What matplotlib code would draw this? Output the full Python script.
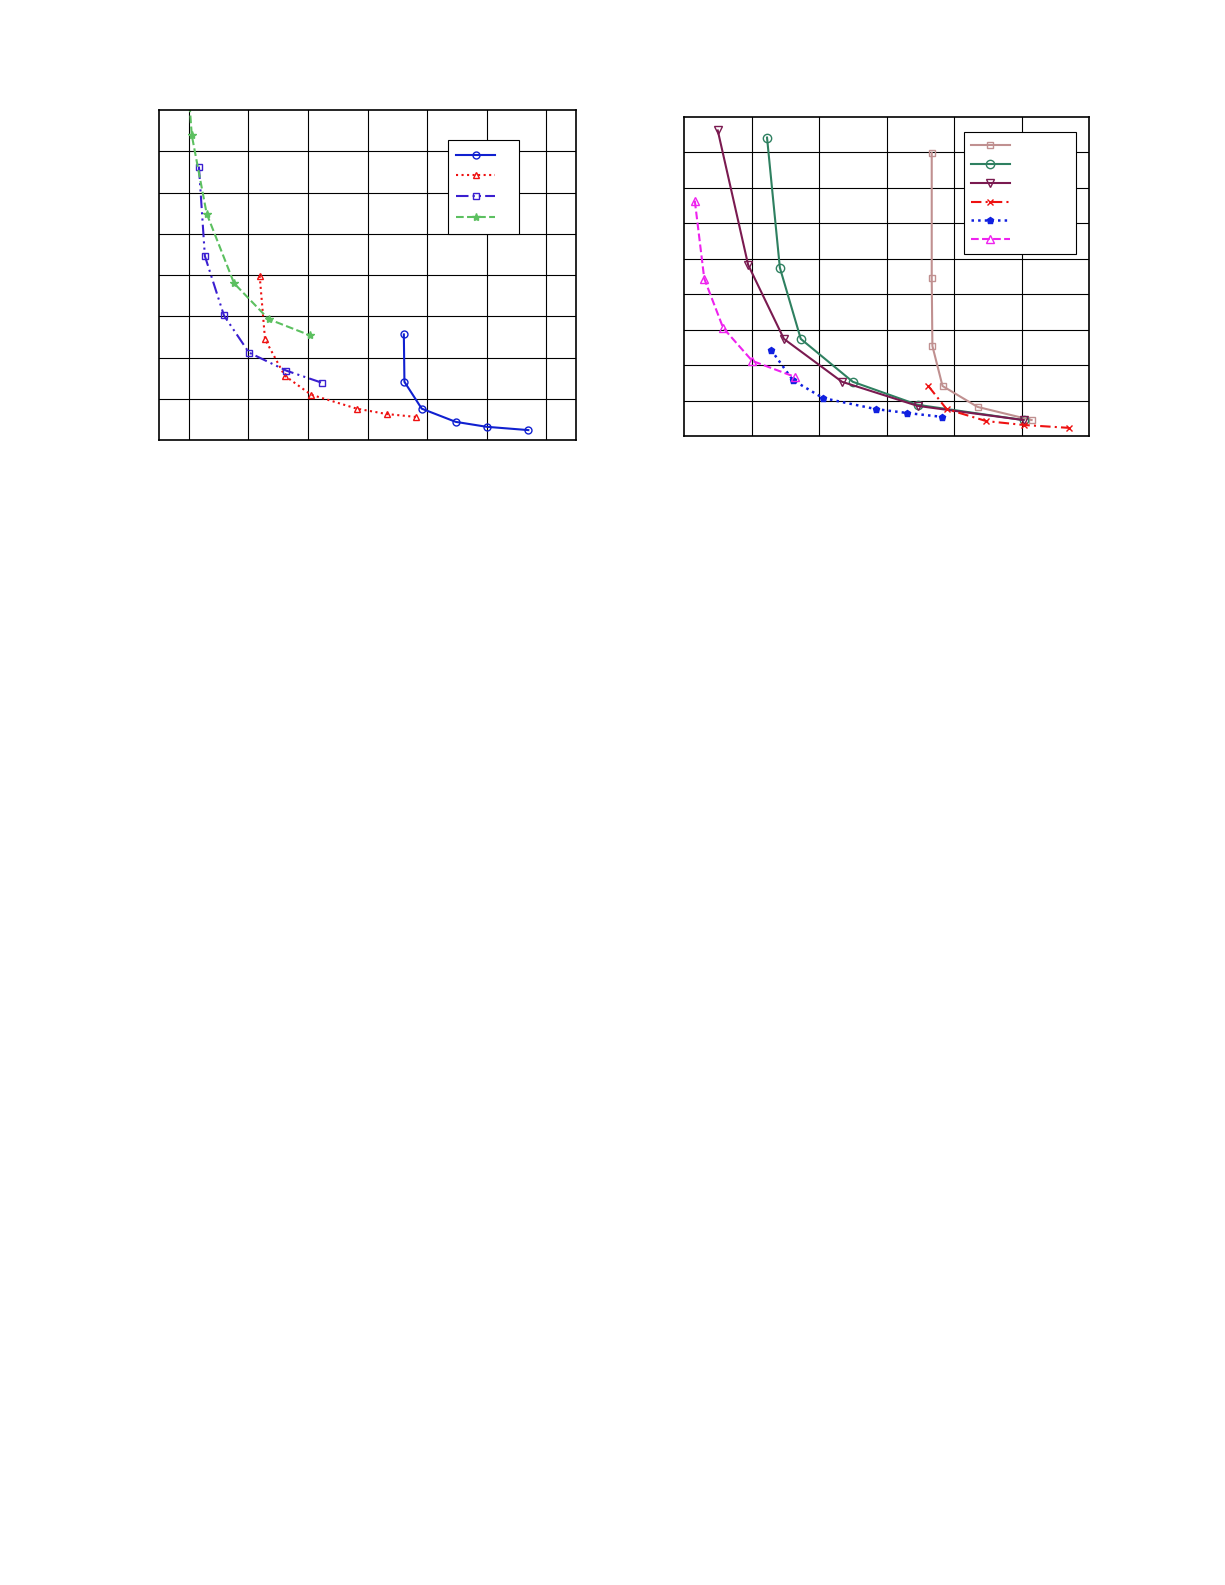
import matplotlib
matplotlib.use("Agg")
import matplotlib.pyplot as plt
from matplotlib.lines import Line2D

# Left panel data
l_blue_x = [3.61, 3.62, 3.91, 4.48, 5.00, 5.70]
l_blue_y = [2.56, 1.41, 0.76, 0.44, 0.32, 0.24]
l_red_x = [1.19, 1.28, 1.61, 2.05, 2.82, 3.32, 3.81]
l_red_y = [3.98, 2.44, 1.56, 1.10, 0.76, 0.63, 0.56]
l_sq_x = [0.17, 0.27, 0.59, 1.01, 1.64, 2.23]
l_sq_y = [6.63, 4.46, 3.02, 2.12, 1.68, 1.39]
l_gr_x = [0.00, 0.05, 0.30, 0.76, 1.34, 2.03]
l_gr_y = [8.40, 7.39, 5.49, 3.80, 2.93, 2.54]

# Right panel data
r_sq_x = [3.67, 3.67, 3.68, 3.83, 4.35, 5.15]
r_sq_y = [7.99, 4.46, 2.54, 1.41, 0.82, 0.45]
r_ci_x = [1.23, 1.42, 1.73, 2.50, 3.46, 5.03]
r_ci_y = [8.42, 4.75, 2.74, 1.53, 0.88, 0.45]
r_tv_x = [0.50, 0.95, 1.48, 2.34, 3.46, 5.03]
r_tv_y = [8.62, 4.83, 2.74, 1.53, 0.85, 0.45]
r_x_x = [3.62, 3.89, 4.48, 5.04, 5.70]
r_x_y = [1.41, 0.76, 0.42, 0.31, 0.23]
r_pe_x = [1.29, 1.61, 2.06, 2.84, 3.30, 3.82]
r_pe_y = [2.43, 1.58, 1.07, 0.76, 0.65, 0.54]
r_tu_x = [0.16, 0.30, 0.58, 1.01, 1.64]
r_tu_y = [6.64, 4.44, 3.05, 2.12, 1.67]

W, H = 1225, 1585
fig = plt.figure(figsize=(W/100, H/100), dpi=100)
ax1 = fig.add_axes([159/W, 1-440/H, 417/W, 330/H])
ax2 = fig.add_axes([684/W, 1-436/H, 405/W, 319/H])

ms = 5
ax1.plot(l_blue_x, l_blue_y, '-', color='#1020d0', marker='o', mfc='none', ms=ms, lw=1.5, label=' ')
ax1.plot(l_red_x, l_red_y, ':', color='#ee1111', marker='^', mfc='none', ms=ms, lw=1.5, label=' ')
ax1.plot(l_sq_x, l_sq_y, linestyle=(0, (6, 2, 1, 2, 1, 2)), color='#3a1fd0', marker='s', mfc='none', ms=ms, lw=1.5, label=' ')
ax1.plot(l_gr_x, l_gr_y, '--', color='#5cc060', marker='*', ms=ms+1, lw=1.5, label=' ')
ax1.set_xlim(-0.5, 6.5)
ax1.set_ylim(0, 8)
ax1.set_xticks(range(0, 7))
ax1.set_yticks(range(1, 8))
leg1 = ax1.legend(loc='upper right', bbox_to_anchor=(0.88, 0.93), handlelength=2.8, fancybox=False,
                  edgecolor='black', framealpha=1, borderpad=0.6, labelspacing=0.5)
leg1.get_frame().set_linewidth(0.8)

ax2.plot(r_sq_x, r_sq_y, '-', color='#c09090', marker='s', mfc='none', ms=ms, lw=1.5, label='           ')
ax2.plot(r_ci_x, r_ci_y, '-', color='#2e8060', marker='o', mfc='none', ms=ms+1, lw=1.5, label='           ')
ax2.plot(r_tv_x, r_tv_y, '-', color='#7a1a50', marker='v', mfc='none', ms=ms+1, lw=1.5, label='           ')
ax2.plot(r_x_x, r_x_y, linestyle=(0, (5, 2, 1, 2)), color='#ee1111', marker='x', ms=ms, lw=1.5, label='           ')
ax2.plot(r_pe_x, r_pe_y, ':', color='#1020e0', marker='p', ms=ms, lw=1.8, label='           ')
ax2.plot(r_tu_x, r_tu_y, '--', color='#ee22ee', marker='^', mfc='none', ms=ms+1, lw=1.5, label='           ')
ax2.set_xlim(0, 6)
ax2.set_ylim(0, 9)
ax2.set_xticks(range(1, 6))
ax2.set_yticks(range(1, 9))
leg2 = ax2.legend(loc='upper right', bbox_to_anchor=(0.985, 0.975), handlelength=2.8, fancybox=False,
                  edgecolor='black', framealpha=1, borderpad=0.5, labelspacing=0.35)
leg2.get_frame().set_linewidth(0.8)

for ax in (ax1, ax2):
    ax.grid(True, color='black', lw=0.8)
    ax.tick_params(length=0, labelbottom=False, labelleft=False)
    for s in ax.spines.values():
        s.set_linewidth(1.2)

fig.savefig('out.png', dpi=100)
